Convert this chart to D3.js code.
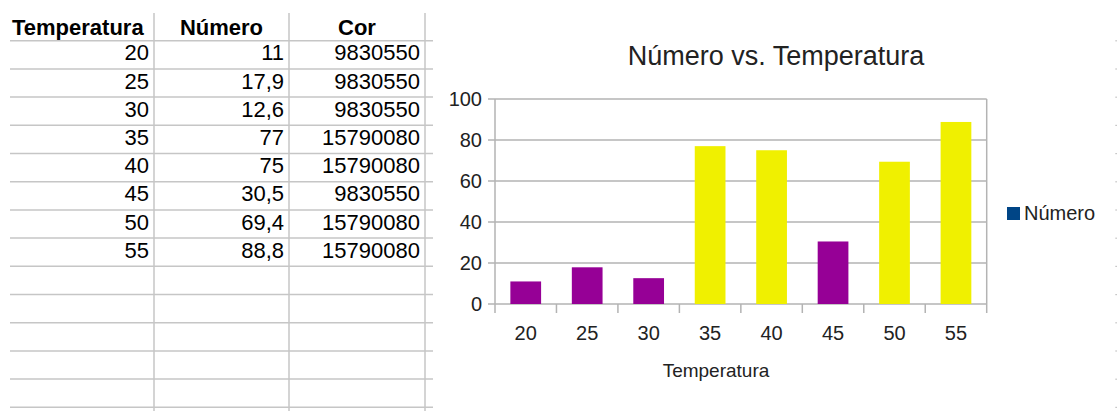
<!DOCTYPE html>
<html>
<head>
<meta charset="utf-8">
<script src="https://cdn.jsdelivr.net/npm/d3@7"></script>
<style>
  html, body { margin: 0; padding: 0; background: #fff; }
  svg { display: block; font-family: "Liberation Sans", Arial, sans-serif; }
</style>
</head>
<body>
<svg id="c" width="1117" height="411"></svg>
<script>
// ---- data ----
const headers = ["Temperatura", "Número", "Cor"];
const temperatura = [20, 25, 30, 35, 40, 45, 50, 55];
const numero = [11, 17.9, 12.6, 77, 75, 30.5, 69.4, 88.8];
const cor = [9830550, 9830550, 9830550, 15790080, 15790080, 9830550, 15790080, 15790080];
const yTicks = [0, 20, 40, 60, 80, 100];
const chartTitle = "Número vs. Temperatura";
const xTitle = "Temperatura";
const legendLabel = "Número";
const legendColor = "#004586";

(function () {
const svg = d3.select("#c");
const fmt = v => String(v).replace(".", ",");
const toColor = c => d3.rgb((c >> 16) & 255, (c >> 8) & 255, c & 255).formatHex();

// ---- spreadsheet table ----
const colEdges = [10, 154, 289, 425];
const rowTop = 40.7, rowH = 28.2, nRows = 14;
const gridCol = "#c6c6c6";
const tbl = svg.append("g");
const rowY = d3.range(nRows).map(k => rowTop + k * rowH);
tbl.selectAll("line.h").data(rowY).join("line")
  .attr("x1", 10).attr("x2", 433).attr("y1", d => d).attr("y2", d => d)
  .attr("stroke", gridCol).attr("stroke-width", 1.5);
tbl.selectAll("line.v").data(colEdges.slice(1)).join("line")
  .attr("x1", d => d).attr("x2", d => d).attr("y1", 13).attr("y2", 411)
  .attr("stroke", gridCol).attr("stroke-width", 1.5);
// right-edge dots
svg.selectAll("rect.dot").data(rowY).join("rect")
  .attr("x", 1115.5).attr("y", d => d - 0.5).attr("width", 1.2).attr("height", 1.2)
  .attr("fill", "#b0b0b0");

// header
tbl.append("text").attr("x", 12).attr("y", 34.5).attr("font-size", 22)
  .attr("font-weight", "bold").text(headers[0]);
tbl.append("text").attr("x", (colEdges[1] + colEdges[2]) / 2).attr("y", 34.5)
  .attr("font-size", 22).attr("font-weight", "bold").attr("text-anchor", "middle").text(headers[1]);
tbl.append("text").attr("x", (colEdges[2] + colEdges[3]) / 2).attr("y", 34.5)
  .attr("font-size", 22).attr("font-weight", "bold").attr("text-anchor", "middle").text(headers[2]);

const cols = [temperatura.map(String), numero.map(fmt), cor.map(String)];
cols.forEach((vals, ci) => {
  tbl.selectAll(null).data(vals).join("text")
    .attr("x", colEdges[ci + 1] - 5)
    .attr("y", (d, i) => rowTop + (i + 1) * rowH - 8.5)
    .attr("font-size", 22).attr("text-anchor", "end").attr("fill", "#000")
    .text(d => d);
});

// ---- chart ----
const pLeft = 495, pRight = 986.7, pTop = 99, pBottom = 304;
const x = d3.scaleBand().domain(temperatura).range([pLeft, pRight]).paddingInner(0.5).paddingOuter(0.25);
const y = d3.scaleLinear().domain([0, 100]).range([pBottom, pTop]);
const axCol = "#b3b3b3";
const txt = "#222";

const ch = svg.append("g");
ch.selectAll("line.g").data(yTicks).join("line")
  .attr("x1", pLeft - 7).attr("x2", pRight).attr("y1", d => y(d)).attr("y2", d => y(d))
  .attr("stroke", axCol).attr("stroke-width", 1.5);
ch.append("line").attr("x1", pRight).attr("x2", pRight).attr("y1", pTop).attr("y2", pBottom + 9)
  .attr("stroke", axCol).attr("stroke-width", 1.5);
ch.append("line").attr("x1", pLeft).attr("x2", pLeft).attr("y1", pTop).attr("y2", pBottom + 9)
  .attr("stroke", axCol).attr("stroke-width", 1.5);
const bounds = temperatura.slice(1).map(t => x(t) - x.step() * x.paddingInner() / 2);
ch.selectAll("line.xt").data(bounds).join("line")
  .attr("x1", d => d).attr("x2", d => d).attr("y1", pBottom).attr("y2", pBottom + 9)
  .attr("stroke", axCol).attr("stroke-width", 1.5);

ch.selectAll("rect.bar").data(temperatura).join("rect")
  .attr("x", d => x(d)).attr("width", x.bandwidth())
  .attr("y", (d, i) => y(numero[i])).attr("height", (d, i) => pBottom - y(numero[i]))
  .attr("fill", (d, i) => toColor(cor[i]));

ch.selectAll("text.yl").data(yTicks).join("text")
  .attr("x", 482).attr("y", d => y(d) + 6.5)
  .attr("text-anchor", "end").attr("font-size", 20).attr("fill", txt).text(d => d);
ch.selectAll("text.xl").data(temperatura).join("text")
  .attr("x", d => x(d) + x.bandwidth() / 2).attr("y", 340)
  .attr("text-anchor", "middle").attr("font-size", 20).attr("fill", txt).text(d => d);

svg.append("text").attr("x", 776).attr("y", 65).attr("text-anchor", "middle")
  .attr("font-size", 27).attr("fill", txt).text(chartTitle);
svg.append("text").attr("x", 716).attr("y", 377).attr("text-anchor", "middle")
  .attr("font-size", 19).attr("fill", txt).text(xTitle);

svg.append("rect").attr("x", 1007).attr("y", 207).attr("width", 13).attr("height", 13).attr("fill", legendColor);
svg.append("text").attr("x", 1024).attr("y", 220).attr("font-size", 20).attr("fill", txt).text(legendLabel);
})();
</script>
</body>
</html>
